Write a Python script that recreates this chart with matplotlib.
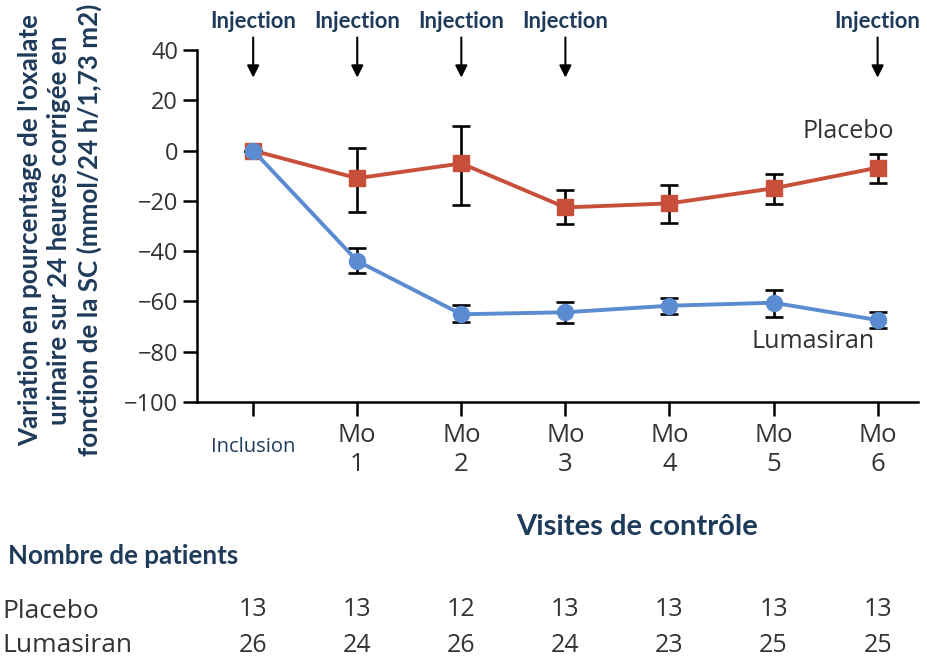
import numpy as np
import matplotlib.pyplot as plt
import matplotlib.transforms as mtransforms

# visits and values
visits = ['Inclusion', 'Mo\n1', 'Mo\n2', 'Mo\n3', 'Mo\n4', 'Mo\n5', 'Mo\n6']
x = np.arange(len(visits))

placebo = [0, -11.0, -5.1, -22.6, -21.0, -15.0, -6.8]
placebo_hi = [0, 0.9, 9.8, -15.7, -13.7, -9.3, -1.4]
placebo_lo = [0, -24.3, -21.6, -29.2, -28.9, -21.2, -13.0]

luma = [0, -43.9, -65.1, -64.3, -61.7, -60.5, -67.4]
luma_hi = [0, -38.6, -61.5, -60.1, -58.5, -55.4, -64.1]
luma_lo = [0, -48.6, -68.3, -68.5, -65.1, -66.1, -70.7]

injections = [0, 1, 2, 3, 6]

n_placebo = [13, 13, 12, 13, 13, 13, 13]
n_luma = [26, 24, 26, 24, 23, 25, 25]

red = '#C8503A'
blue = '#5B8BD0'
navy = '#1F3B5A'
grey = '#333333'
bold_font = ['Lato', 'DejaVu Sans']

plt.rcParams['font.family'] = ['Open Sans', 'DejaVu Sans']

fig = plt.figure(figsize=(9.27, 6.58), dpi=100)
ax = fig.add_axes([0.2125, 0.389, 0.778, 0.535])

def errs(v, lo, hi):
    v = np.array(v)
    return [v - np.array(lo), np.array(hi) - v]

ax.errorbar(x, placebo, yerr=errs(placebo, placebo_lo, placebo_hi), fmt='none',
            ecolor='black', elinewidth=1.9, capsize=6.5, capthick=1.9, zorder=2)
ax.errorbar(x, luma, yerr=errs(luma, luma_lo, luma_hi), fmt='none',
            ecolor='black', elinewidth=1.9, capsize=6.5, capthick=1.9, zorder=2)
ax.plot(x, placebo, color=red, lw=2.8, marker='s', ms=11.5, zorder=3)
ax.plot(x, luma, color=blue, lw=2.8, marker='o', ms=11.5, zorder=4)

ax.set_ylim(-100, 40)
ax.set_xlim(-0.54, 6.39)
ax.set_yticks(range(-100, 41, 20))
ax.set_xticks(x)
ax.set_xticklabels(visits)
ax.tick_params(axis='both', length=10, width=1.8, colors='black', labelcolor=grey)
ax.tick_params(axis='y', labelsize=17)
ax.tick_params(axis='x', labelsize=18.5, pad=5)
lab0 = ax.get_xticklabels()[0]
lab0.set_color(navy)
lab0.set_fontsize(14.5)
lab0.set_y(-0.04)
for s in ['top', 'right']:
    ax.spines[s].set_visible(False)
for s in ['left', 'bottom']:
    ax.spines[s].set_linewidth(1.8)

ax.text(5.72, 7.4, 'Placebo', fontsize=18, color=grey, ha='center', va='center')
ax.text(5.38, -75.8, 'Lumasiran', fontsize=18, color=grey, ha='center', va='center')

# injection arrows
trans = mtransforms.blended_transform_factory(ax.transData, fig.transFigure)
for xi in injections:
    ax.annotate('', xy=(xi, 29), xytext=(xi, 45), annotation_clip=False,
                arrowprops=dict(arrowstyle='-|>', color='black', lw=1.5,
                                mutation_scale=18, shrinkA=0, shrinkB=0))
    ax.text(xi, 1 - 22 / 658, 'Injection', transform=trans, family=bold_font,
            fontsize=15.8, fontweight='bold', color=navy, ha='center', va='center')

fig.text(60 / 927, 1 - 230 / 658,
         "Variation en pourcentage de l'oxalate\nurinaire sur 24 heures corrigée en\nfonction de la SC (mmol/24 h/1,73 m2)",
         rotation=90, ha='center', va='center', multialignment='center',
         family=bold_font, fontsize=18.7, fontweight='bold', color=navy,
         linespacing=1.25)

fig.text(637 / 927, 1 - 527 / 658, 'Visites de contrôle', family=bold_font,
         fontsize=21, fontweight='bold', color=navy, ha='center', va='center')
fig.text(8 / 927, 1 - 556 / 658, 'Nombre de patients', family=bold_font,
         fontsize=18.6, fontweight='bold', color=navy, ha='left', va='center')

fig.text(2 / 927, 1 - 612 / 658, 'Placebo', fontsize=19, color=grey, va='center')
fig.text(2 / 927, 1 - 645 / 658, 'Lumasiran', fontsize=19, color=grey, va='center')
for xi, a, b in zip(x, n_placebo, n_luma):
    ax.text(xi, 1 - 610 / 658, str(a), transform=trans, fontsize=18, color=grey,
            ha='center', va='center')
    ax.text(xi, 1 - 645 / 658, str(b), transform=trans, fontsize=18, color=grey,
            ha='center', va='center')

fig.savefig('out.png', dpi=100)
